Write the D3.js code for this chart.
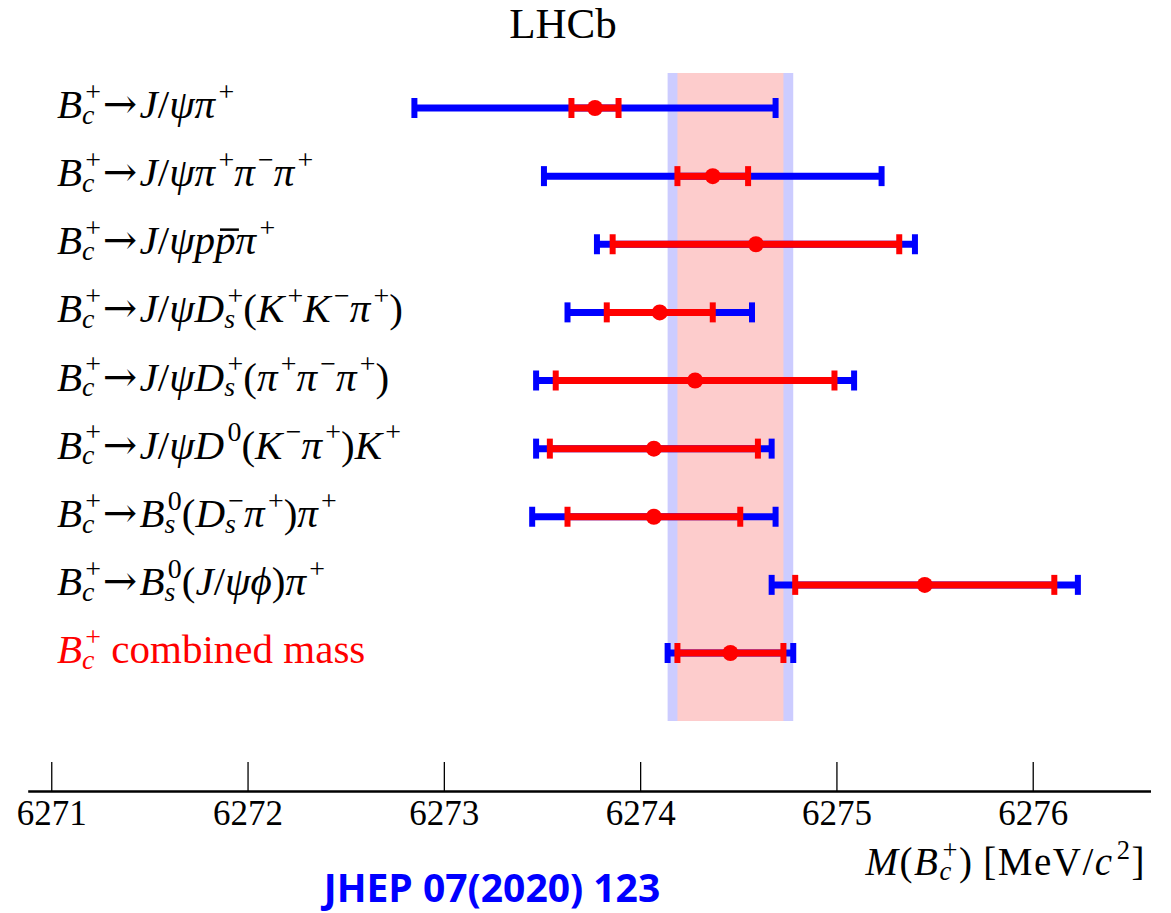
<!DOCTYPE html>
<html>
<head>
<meta charset="utf-8">
<script src="https://cdn.jsdelivr.net/npm/d3@7"></script>
<style>
  body { margin: 0; background: #fff; }
</style>
</head>
<body>
<svg id="chart" width="1171" height="913"></svg>
<script>
// decay modes, mini markup: ^ sup, _ sub, ~ overline, | toggles upright text
const modes = [
    "B_c^+→J/ψπ^+",
    "B_c^+→J/ψπ^+π^−π^+",
    "B_c^+→J/ψp~pπ^+",
    "B_c^+→J/ψD_s^+(K^+K^−π^+)",
    "B_c^+→J/ψD_s^+(π^+π^−π^+)",
    "B_c^+→J/ψD^0(K^−π^+)K^+",
    "B_c^+→B_s^0(D_s^−π^+)π^+",
    "B_c^+→B_s^0(J/ψϕ)π^+",
    "B_c^+| combined mass"
];
// measured mass [MeV/c^2], statistical and total uncertainty
const mass    = [6273.77, 6274.37, 6274.59, 6274.10, 6274.28, 6274.07, 6274.07, 6275.45, 6274.46];
const statErr = [0.12, 0.18, 0.73, 0.27, 0.71, 0.53, 0.44, 0.66, 0.27];
const totErr  = [0.92, 0.86, 0.81, 0.47, 0.81, 0.60, 0.62, 0.78, 0.32];

const xTicks = [6271, 6272, 6273, 6274, 6275, 6276];
const xLimits = [6270.88, 6276.6];
const xTitle = "M(B_c^+)| [MeV/|c^2]";
const title = "LHCb";
const reference = "JHEP 07(2020) 123";

const serif = "'Liberation Serif', 'Times New Roman', serif";
const svg = d3.select("#chart");

const x = d3.scaleLinear().domain(xLimits).range([27.7, 1150.5]);
const y = d3.scalePoint().domain(d3.range(modes.length)).range([108, 653]);
const last = modes.length - 1;

/**
 * Writes a small formula (italic letters, stacked sub/superscripts) into g
 */
function richText(g, str, size, gap = 0) {
    const chars = Array.from(str);
    const isItalic = ch => /[A-Za-zα-ωϕ]/.test(ch);
    let cx = 0, upright = false, prevItalic = false;
    const put = (txt, dx, dy, fs, italic, family) => {
        const t = g.append("text")
            .attr("x", cx + dx)
            .attr("y", dy)
            .attr("font-size", fs)
            .attr("font-style", italic ? "italic" : "normal")
            .text(txt);
        if (family) t.attr("font-family", family);
        return t.node().getComputedTextLength();
    };
    for (let i = 0; i < chars.length; i++) {
        const c = chars[i];
        if (c === "|") { upright = !upright; continue; }
        if (c === " ") { cx += size * 0.25; prevItalic = false; continue; }
        if (c === "^" || c === "_") {
            let sup = null, sub = null;
            while (i < chars.length && (chars[i] === "^" || chars[i] === "_")) {
                if (chars[i] === "^") sup = chars[i + 1]; else sub = chars[i + 1];
                i += 2;
            }
            i--;
            const fs = size * 0.68;
            const kern = prevItalic ? size * 0.08 : 0;
            let w = 0;
            if (sup) w = Math.max(w, put(sup, kern, -size * 0.42, fs, !upright && isItalic(sup)) + kern);
            if (sub) w = Math.max(w, put(sub, 0, size * 0.14, fs, !upright && isItalic(sub)));
            cx += w + gap;
            prevItalic = false;
            continue;
        }
        let bar = false;
        if (c === "~") { bar = true; i++; }
        const ch = chars[i];
        const it = !upright && isItalic(ch);
        let w;
        if (ch === "→") {
            w = put(ch, size * 0.04, 0, size, false, "'DejaVu Serif', serif") + size * 0.1;
        } else {
            w = put(ch, 0, 0, size, it);
        }
        if (bar) {
            g.append("line")
                .attr("x1", cx + size * 0.12).attr("x2", cx + w + size * 0.08)
                .attr("y1", -size * 0.6).attr("y2", -size * 0.6)
                .attr("stroke", "currentColor")
                .attr("stroke-width", 2.5);
        }
        cx += w + gap;
        prevItalic = it;
    }
    return cx;
}

// shaded band of the combined mass: total (blue) and stat (red)
const bandTop = y(0) - 35, bandBottom = y(last) + 68;
svg.append("rect")
    .attr("x", x(mass[last] - totErr[last]))
    .attr("width", x(mass[last] + totErr[last]) - x(mass[last] - totErr[last]))
    .attr("y", bandTop).attr("height", bandBottom - bandTop)
    .attr("fill", "#ccccff");
svg.append("rect")
    .attr("x", x(mass[last] - statErr[last]))
    .attr("width", x(mass[last] + statErr[last]) - x(mass[last] - statErr[last]))
    .attr("y", bandTop).attr("height", bandBottom - bandTop)
    .attr("fill", "#fdcccc");

// error bars
const rows = svg.append("g").selectAll("g.row")
    .data(modes.map((m, i) => ({ i, m, v: mass[i], s: statErr[i], t: totErr[i] })))
    .join("g")
    .attr("class", "row")
    .attr("transform", d => `translate(0,${y(d.i)})`);

function drawBar(sel, errKey, color) {
    sel.append("line")
        .attr("x1", d => x(d.v - d[errKey])).attr("x2", d => x(d.v + d[errKey]))
        .attr("stroke", color).attr("stroke-width", 7);
    [-1, 1].forEach(sign => {
        sel.append("line")
            .attr("x1", d => x(d.v + sign * d[errKey])).attr("x2", d => x(d.v + sign * d[errKey]))
            .attr("y1", -10).attr("y2", 10)
            .attr("stroke", color).attr("stroke-width", 6);
    });
}
drawBar(rows, "t", "#0000ff");
drawBar(rows, "s", "#ff0000");
rows.append("circle")
    .attr("cx", d => x(d.v)).attr("r", 8)
    .attr("fill", "#ff0000");

// row labels
modes.forEach((m, i) => {
    const g = svg.append("g")
        .attr("transform", `translate(57,${y(i) + 10})`)
        .attr("font-family", serif)
        .attr("fill", i === last ? "#ff0000" : "#000")
        .style("color", i === last ? "#ff0000" : "#000");
    richText(g, m, 41);
});

// x axis
const axis = svg.append("g")
    .attr("transform", "translate(0,791)")
    .call(d3.axisBottom(x).tickValues(xTicks).tickFormat(d3.format("d"))
        .tickSizeInner(-29).tickSizeOuter(0).tickPadding(9));
axis.select(".domain").attr("stroke-width", 2.5);
axis.selectAll(".tick line").attr("stroke-width", 1.3);
axis.selectAll(".tick text")
    .attr("font-family", serif)
    .attr("font-size", 35)
    .attr("fill", "#000");

// axis title, right aligned
const xt = svg.append("g").attr("font-family", serif).attr("fill", "#000");
const xtWidth = richText(xt, xTitle, 39, 1.5);
xt.attr("transform", `translate(${1146 - xtWidth},875)`);

// title
svg.append("text")
    .attr("x", 563).attr("y", 38)
    .attr("text-anchor", "middle")
    .attr("font-family", serif)
    .attr("font-size", 43)
    .text(title);

// reference
svg.append("text")
    .attr("x", 492).attr("y", 902)
    .attr("text-anchor", "middle")
    .attr("font-family", "'Open Sans', sans-serif")
    .attr("font-weight", "bold")
    .attr("font-size", 39)
    .attr("fill", "#0000ff")
    .text(reference);
</script>
</body>
</html>
